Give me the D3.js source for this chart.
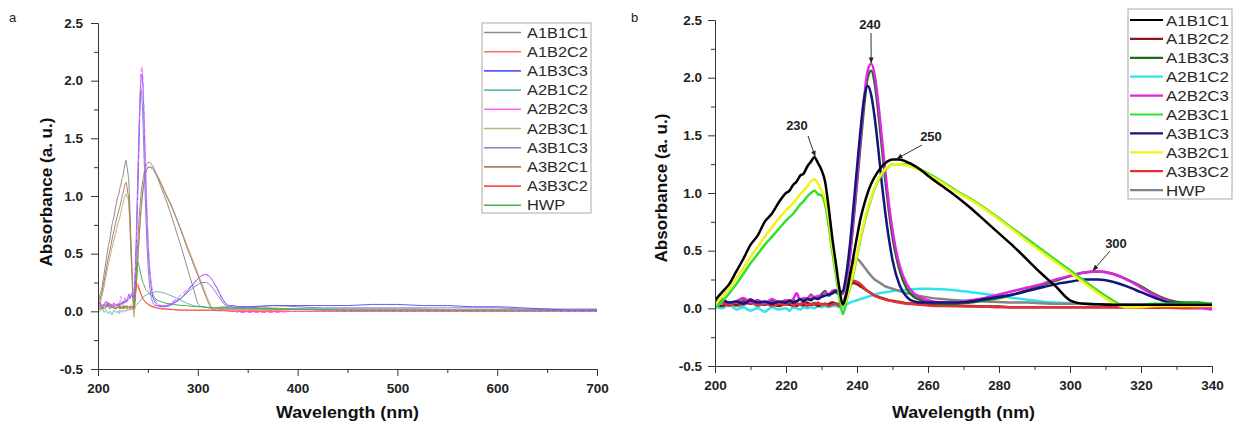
<!DOCTYPE html>
<html><head><meta charset="utf-8">
<script src="https://cdn.jsdelivr.net/npm/d3@7"></script>
<style>
body{margin:0;background:#fff;}
svg{display:block;font-family:"Liberation Sans",Arial,sans-serif;}
</style></head>
<body><svg id="c" width="1248" height="422"></svg>
<script>
// Wavelength grid (nm)
const wavelength = [200,202,204,206,208,210,212,214,216,218,220,
 221,222,223,224,225,226,227,228,229,230,231,232,233,234,235,236,237,238,239,240,241,242,243,244,245,246,247,248,249,250,
 252,254,256,258,260,
 264,268,272,276,280,284,288,292,296,300,304,308,312,316,320,324,328,332,336,340,
 350,375,400,425,450,475,500,525,550,575,600,625,650,675,700];

const seriesNames = ["A1B1C1","A1B2C2","A1B3C3","A2B1C2","A2B2C3","A2B3C1","A3B1C3","A3B2C1","A3B3C2","HWP"];

const A1B1C1 = [0.07,0.14,0.21,0.32,0.43,0.55,0.63,0.75,0.82,0.92,1.00,
 1.02,1.07,1.10,1.15,1.17,1.23,1.27,1.31,1.26,1.20,1.10,0.88,0.62,0.40,0.18,0.03,0.12,0.28,0.45,0.62,0.78,0.90,1.00,1.08,1.14,1.19,1.23,1.26,1.28,1.29,
 1.29,1.27,1.24,1.20,1.15,
 1.06,0.97,0.87,0.76,0.65,0.54,0.42,0.30,0.19,0.07,0.04,0.035,0.03,0.03,0.03,0.03,0.03,0.03,0.03,0.03,
 0.03,0.02,0.02,0.02,0.02,0.02,0.02,0.02,0.01,0.01,0.01,0.01,0.01,0.0,0.0];
const A1B2C2 = [0.04,0.02,0.05,0.03,0.06,0.04,0.07,0.03,0.05,0.02,0.04,
 0.03,0.05,0.02,0.04,0.03,0.05,0.03,0.04,0.02,0.03,0.04,0.03,0.05,0.04,0.03,0.04,0.12,0.20,0.22,0.21,0.19,0.17,0.15,0.13,0.11,0.10,0.09,0.08,0.07,0.065,
 0.055,0.045,0.04,0.035,0.03,
 0.025,0.02,0.02,0.015,0.015,0.01,0.01,0.01,0.01,0.01,0.01,0.01,0.01,0.01,0.01,0.01,0.01,0.005,0.005,0.005,
 0.005,0.005,0.0,0.0,0.0,0.0,0.0,0.0,0.0,0.0,0.0,0.0,0.0,0.0,0.0];
const A1B3C3 = [0.05,0.07,0.04,0.06,0.08,0.05,0.06,0.04,0.07,0.05,0.06,
 0.05,0.07,0.06,0.08,0.07,0.09,0.08,0.10,0.09,0.12,0.15,0.11,0.13,0.14,0.12,0.13,0.25,0.45,0.75,1.08,1.42,1.75,2.00,2.06,1.95,1.70,1.40,1.10,0.84,0.62,
 0.33,0.17,0.10,0.07,0.05,
 0.04,0.04,0.05,0.07,0.09,0.12,0.16,0.20,0.24,0.28,0.31,0.32,0.30,0.25,0.19,0.12,0.07,0.05,0.05,0.04,
 0.04,0.05,0.05,0.05,0.05,0.06,0.06,0.05,0.05,0.04,0.04,0.03,0.02,0.01,0.01];
const A2B1C2 = [0.02,0.00,0.03,-0.01,0.01,-0.02,0.00,-0.03,0.01,-0.01,0.00,
 -0.02,0.01,0.00,-0.01,0.01,0.00,0.01,0.00,0.02,0.01,0.02,0.01,0.02,0.02,0.01,0.01,0.03,0.05,0.06,0.07,0.08,0.09,0.10,0.11,0.12,0.13,0.135,0.14,0.145,0.15,
 0.155,0.16,0.165,0.17,0.17,
 0.165,0.155,0.14,0.125,0.11,0.09,0.075,0.06,0.05,0.045,0.04,0.035,0.03,0.03,0.025,0.025,0.02,0.02,0.02,0.02,
 0.02,0.02,0.015,0.015,0.01,0.01,0.01,0.01,0.01,0.01,0.01,0.005,0.005,0.005,0.005];
const A2B2C3 = [0.05,0.08,0.04,0.06,0.09,0.05,0.07,0.04,0.08,0.05,0.07,
 0.06,0.08,0.13,0.07,0.09,0.08,0.12,0.09,0.11,0.10,0.14,0.12,0.15,0.16,0.13,0.14,0.26,0.46,0.78,1.12,1.48,1.82,2.06,2.12,2.02,1.78,1.48,1.18,0.90,0.68,
 0.37,0.21,0.13,0.09,0.07,
 0.05,0.05,0.07,0.09,0.12,0.15,0.18,0.21,0.25,0.28,0.31,0.32,0.30,0.25,0.18,0.11,0.06,0.03,0.01,-0.01,
 -0.01,-0.01,0.0,0.0,0.0,0.0,0.0,0.0,0.0,0.0,0.0,0.0,0.0,0.0,0.0];
const A2B3C1 = [0.00,0.06,0.13,0.21,0.30,0.39,0.47,0.55,0.62,0.69,0.76,
 0.79,0.82,0.86,0.90,0.93,0.97,1.00,1.02,0.99,0.98,0.90,0.72,0.50,0.30,0.10,-0.05,0.06,0.18,0.30,0.45,0.60,0.73,0.85,0.95,1.04,1.11,1.16,1.20,1.23,1.25,
 1.25,1.25,1.23,1.20,1.17,
 1.10,1.02,0.95,0.87,0.78,0.69,0.60,0.51,0.42,0.33,0.24,0.15,0.07,0.01,0.03,0.04,0.04,0.04,0.04,0.04,
 0.04,0.03,0.02,0.02,0.02,0.01,0.01,0.01,0.01,0.01,0.01,0.01,0.01,0.01,0.01];
const A3B1C3 = [0.04,0.07,0.05,0.06,0.04,0.07,0.05,0.06,0.04,0.06,0.05,
 0.07,0.05,0.06,0.08,0.06,0.08,0.07,0.09,0.08,0.10,0.11,0.12,0.13,0.15,0.14,0.15,0.30,0.55,0.88,1.22,1.55,1.82,1.93,1.85,1.65,1.38,1.08,0.82,0.60,0.42,
 0.20,0.10,0.06,0.05,0.05,
 0.05,0.05,0.06,0.08,0.10,0.12,0.15,0.18,0.21,0.23,0.25,0.25,0.23,0.19,0.14,0.09,0.05,0.04,0.03,0.03,
 0.03,0.05,0.04,0.03,0.03,0.03,0.03,0.03,0.03,0.03,0.03,0.02,0.02,0.02,0.02];
const A3B2C1 = [0.03,0.10,0.17,0.26,0.35,0.45,0.53,0.62,0.70,0.78,0.85,
 0.88,0.91,0.95,0.99,1.02,1.06,1.10,1.12,1.08,1.02,0.95,0.78,0.55,0.35,0.15,0.02,0.08,0.20,0.32,0.47,0.62,0.75,0.87,0.96,1.05,1.12,1.17,1.21,1.23,1.25,
 1.25,1.24,1.22,1.19,1.16,
 1.09,1.01,0.94,0.86,0.77,0.68,0.58,0.49,0.40,0.31,0.22,0.13,0.05,0.01,0.01,0.02,0.02,0.02,0.02,0.02,
 0.02,0.02,0.02,0.01,0.01,0.01,0.01,0.01,0.01,0.01,0.01,0.01,0.01,0.01,0.01];
const A3B3C2 = [0.03,0.05,0.02,0.06,0.04,0.08,0.03,0.05,0.02,0.04,0.03,
 0.05,0.02,0.04,0.03,0.05,0.02,0.04,0.03,0.05,0.03,0.04,0.02,0.03,0.04,0.02,0.03,0.10,0.20,0.24,0.23,0.21,0.18,0.15,0.13,0.11,0.095,0.085,0.075,0.07,0.06,
 0.05,0.04,0.035,0.03,0.025,
 0.02,0.02,0.015,0.015,0.01,0.01,0.01,0.01,0.01,0.01,0.01,0.01,0.01,0.01,0.005,0.005,0.005,0.0,0.0,0.0,
 0.0,0.0,0.0,0.0,0.0,0.0,0.0,0.0,0.0,0.0,0.0,0.0,0.0,0.0,0.0];
const HWP = [0.03,0.02,0.04,0.02,0.03,0.05,0.02,0.04,0.03,0.02,0.04,
 0.03,0.02,0.04,0.03,0.02,0.04,0.03,0.05,0.03,0.04,0.03,0.04,0.05,0.04,0.04,0.05,0.15,0.30,0.40,0.43,0.40,0.36,0.32,0.28,0.25,0.23,0.21,0.19,0.18,0.17,
 0.15,0.13,0.12,0.105,0.095,
 0.08,0.07,0.065,0.06,0.055,0.05,0.05,0.045,0.04,0.04,0.04,0.035,0.035,0.03,0.03,0.03,0.03,0.03,0.03,0.03,
 0.03,0.02,0.02,0.015,0.01,0.01,0.01,0.01,0.01,0.01,0.01,0.01,0.01,0.01,0.01];

const seriesValues = [A1B1C1,A1B2C2,A1B3C3,A2B1C2,A2B2C3,A2B3C1,A3B1C3,A3B2C1,A3B3C2,HWP];

const colorsA = ["#8c8c8c","#ff6a6a","#5a5aff","#6ab8b8","#ff66ff","#b8b878","#8484c4","#b07a66","#ff4c4c","#44b444"];
const colorsB = ["#000000","#8e1616","#1c6e1c","#2ee4f2","#e024e0","#32e032","#14147a","#f2f214","#e23232","#848484"];

const yTicks = [-0.5,0.0,0.5,1.0,1.5,2.0,2.5];
const yMinor = [-0.25,0.25,0.75,1.25,1.75,2.25];
const xTicksA = [200,300,400,500,600,700];
const xMinorA = [250,350,450,550,650];
const xTicksB = [200,220,240,260,280,300,320,340];
const xMinorB = [210,230,250,270,290,310,330];

const annotations = [
  {text:"230", wl:228.2, val:1.31, tx:797, ty:130, ax:808, ay:136},
  {text:"240", wl:244, val:2.12, tx:870, ty:29, ax:871, ay:33},
  {text:"250", wl:251.3, val:1.29, tx:931, ty:141, ax:922, ay:145},
  {text:"300", wl:306.5, val:0.32, tx:1116, ty:248, ax:1110, ay:251}
];

const data = seriesNames.map((n,i)=>({name:n, values: wavelength.map((w,j)=>({w, a: seriesValues[i][j]}))}));

const svg = d3.select("#c");
const defs = svg.append("defs");
defs.append("marker").attr("id","arr").attr("viewBox","0 0 10 10").attr("refX",9).attr("refY",5)
  .attr("markerWidth",6).attr("markerHeight",6).attr("orient","auto")
  .append("path").attr("d","M0,1 L10,5 L0,9 Z").attr("fill","#222");

function panel(cfg){
  const x = d3.scaleLinear().domain(cfg.xd).range(cfg.xr);
  const y = d3.scaleLinear().domain([-0.5,2.5]).range(cfg.yr);
  const g = svg.append("g");
  const clipId = "clip"+cfg.id;
  defs.append("clipPath").attr("id",clipId).append("rect")
    .attr("x",cfg.xr[0]).attr("y",cfg.yr[1]-5).attr("width",cfg.xr[1]-cfg.xr[0]).attr("height",cfg.yr[0]-cfg.yr[1]+5);
  const line = d3.line().x(d=>x(d.w)).y(d=>y(d.a)).curve(d3.curveMonotoneX);
  const lg = g.append("g").attr("clip-path",`url(#${clipId})`);
  cfg.order.forEach(i=>{
    lg.append("path").datum(data[i].values.filter(d=>d.w>=cfg.xd[0]&&d.w<=cfg.xd[1]+10))
      .attr("d",line).attr("fill","none").attr("stroke",cfg.colors[i])
      .attr("stroke-width",cfg.lw).attr("stroke-linejoin","round")
      .attr("stroke-dasharray", (cfg.dash && i===4) ? "5,2" : null);
  });
  const tickStyle = s=>{ s.selectAll("path.domain").attr("stroke","#333"); s.selectAll(".tick line").attr("stroke","#333");
    s.selectAll("text").attr("font-size","13.5px").attr("font-weight","bold").attr("fill","#222").attr("font-family","'Liberation Sans',Arial,sans-serif"); };
  const yAx = g.append("g").attr("transform",`translate(${cfg.xr[0]},0)`)
    .call(d3.axisLeft(y).tickValues(yTicks).tickSize(7).tickPadding(cfg.ypad).tickFormat(d=>d.toFixed(1)));
  tickStyle(yAx);
  const yAxm = g.append("g").attr("transform",`translate(${cfg.xr[0]},0)`)
    .call(d3.axisLeft(y).tickValues(yMinor).tickSize(4).tickFormat(""));
  tickStyle(yAxm); yAxm.select("path.domain").remove();
  const xAx = g.append("g").attr("transform",`translate(0,${cfg.yr[0]})`)
    .call(d3.axisBottom(x).tickValues(cfg.xt).tickSize(7).tickPadding(7).tickFormat(d3.format("d")));
  tickStyle(xAx);
  const xAxm = g.append("g").attr("transform",`translate(0,${cfg.yr[0]})`)
    .call(d3.axisBottom(x).tickValues(cfg.xm).tickSize(4).tickFormat(""));
  tickStyle(xAxm); xAxm.select("path.domain").remove();
  // titles
  g.append("text").attr("x",(cfg.xr[0]+cfg.xr[1])/2).attr("y",418).attr("text-anchor","middle")
    .attr("font-size","16.5px").attr("font-weight","bold").attr("fill","#111")
    .attr("textLength",143).attr("lengthAdjust","spacingAndGlyphs").text("Wavelength (nm)");
  g.append("text").attr("transform",`translate(${cfg.ytx},${cfg.yty}) rotate(-90)`).attr("text-anchor","middle")
    .attr("font-size","16.5px").attr("font-weight","bold").attr("fill","#111")
    .attr("textLength",149).attr("lengthAdjust","spacingAndGlyphs").text("Absorbance (a. u.)");
  g.append("text").attr("x",cfg.lx).attr("y",cfg.ly).attr("font-size","13px").attr("fill","#222").text(cfg.letter);
  // legend
  const L = cfg.leg;
  const lgd = g.append("g");
  lgd.append("rect").attr("x",L.x).attr("y",L.y).attr("width",L.w).attr("height",L.h)
    .attr("fill","#fff").attr("stroke","#aaa").attr("stroke-width",1);
  seriesNames.forEach((n,i)=>{
    const yy = L.y0 + i*L.dy;
    lgd.append("line").attr("x1",L.x+2).attr("x2",L.lx2).attr("y1",yy).attr("y2",yy)
      .attr("stroke",cfg.colors[i]).attr("stroke-width",cfg.legLw);
    lgd.append("text").attr("transform",`translate(${L.tx},${yy}) scale(${L.sx},1)`)
      .attr("dy","0.36em").attr("font-size",L.fs).attr("fill","#2a2a2a").text(n);
  });
  return {x,y,g};
}

panel({id:"a", xd:[200,700], xr:[98,597], yr:[369,23], colors:colorsA, lw:1, legLw:1.6, dash:true, ypad:8,
  order:[0,1,3,5,7,8,9,6,2,4], xt:xTicksA, xm:xMinorA, ytx:52, yty:192, lx:9, ly:22, letter:"a",
  leg:{x:482,y:23,w:109,h:190,y0:32.5,dy:19.2,lx2:521,tx:527,fs:"14px",sx:1.17}});

const pb = panel({id:"b", xd:[200,340], xr:[715,1212], yr:[366,20], colors:colorsB, lw:2.5, legLw:2.2, dash:false, ypad:6,
  order:[3,9,1,8,2,4,6,5,7,0], xt:xTicksB, xm:xMinorB, ytx:667, yty:188, lx:631, ly:22, letter:"b",
  leg:{x:1128,y:9,w:104,h:190,y0:20,dy:18.9,lx2:1163,tx:1166,fs:"15.5px",sx:1.09}});

annotations.forEach(a=>{
  const px = pb.x(a.wl), py = pb.y(a.val);
  pb.g.append("line").attr("x1",a.ax).attr("y1",a.ay).attr("x2",px).attr("y2",py-1)
    .attr("stroke","#333").attr("stroke-width",1).attr("marker-end","url(#arr)");
  pb.g.append("text").attr("x",a.tx).attr("y",a.ty).attr("text-anchor","middle")
    .attr("font-size","13px").attr("font-weight","bold").attr("fill","#222").text(a.text);
});
</script></body></html>
